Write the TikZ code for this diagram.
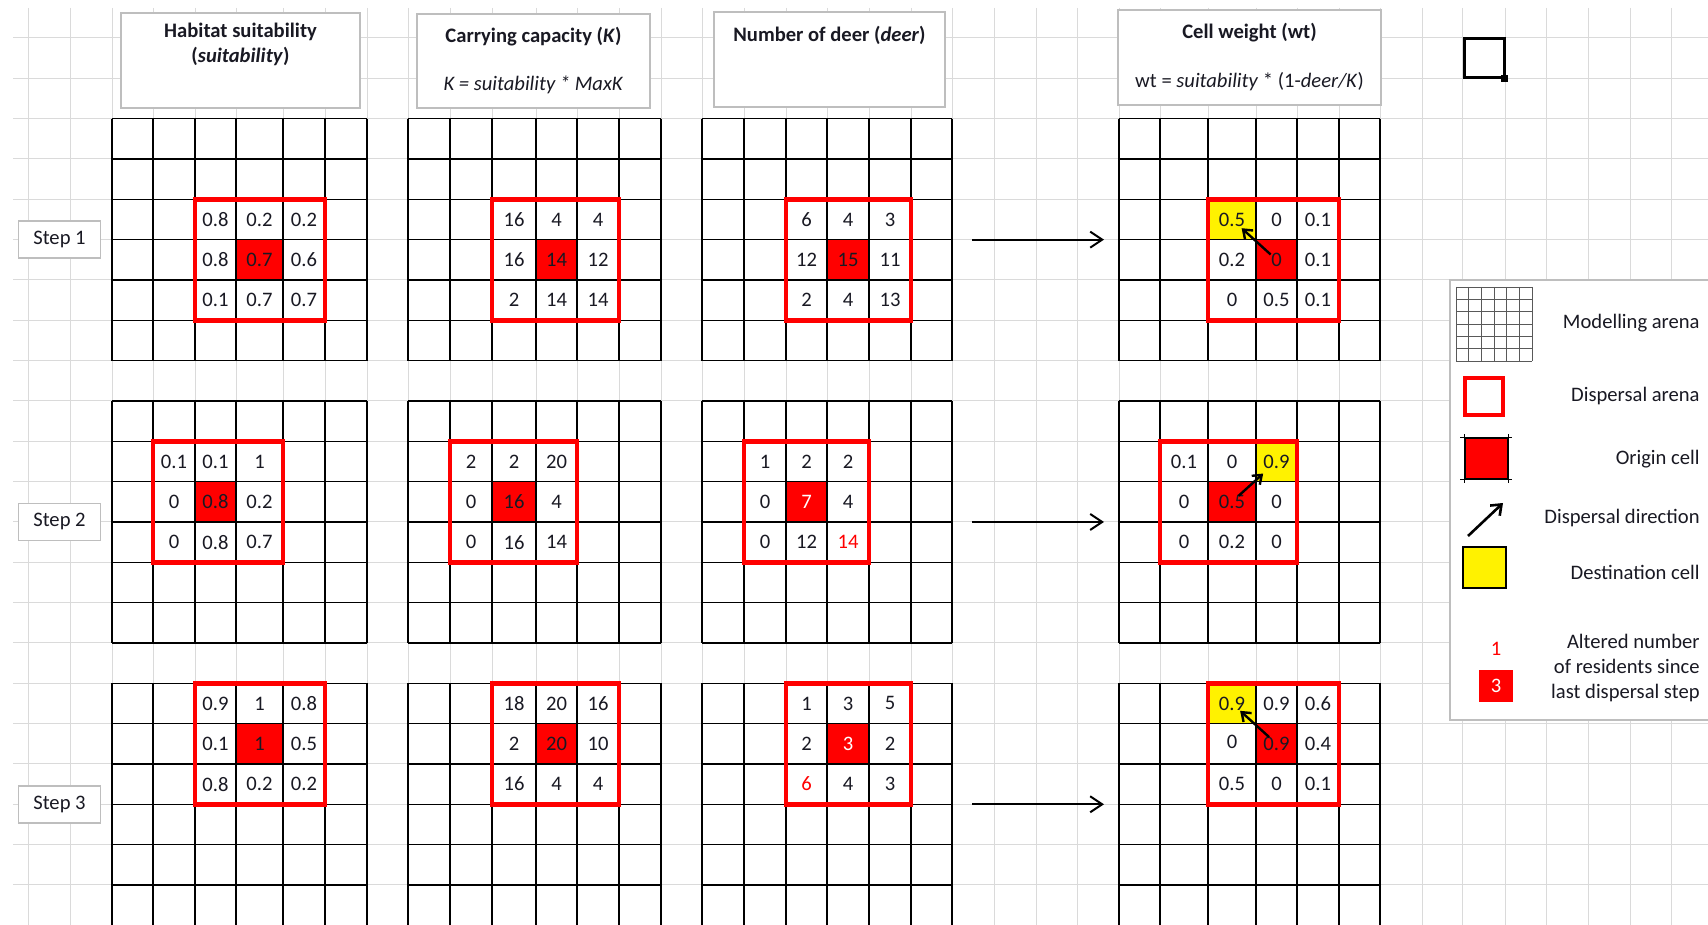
\documentclass[tikz,border=0pt]{standalone}
\usepackage{fontspec}
\setmainfont{Carlito}
\usetikzlibrary{arrows.meta,calc,positioning}

\definecolor{sheetline}{RGB}{218,218,218}
\definecolor{boxline}{RGB}{190,190,190}
\definecolor{ink}{RGB}{25,25,35}

% column boundaries of the four panels (A suitability, B K, C deer, D wt)
\def\colx{{112,153,195,236,283,325,367,
  408,450,492,536,577,619,661,
  702,744,786,827,869,911,952,
  1119,1160,1208,1256,1297,1339,1380}}

\tikzset{
  sheet/.style={sheetline,line width=0.5pt},
  cellgrid/.style={black,line width=0.65pt},
  arena/.style={red,line width=2.3pt},
  headbox/.style={draw=boxline,fill=white,line width=0.8pt,inner sep=0pt},
  stepbox/.style={headbox,minimum width=41pt,minimum height=18.5pt},
  num/.style={text=ink,inner sep=0pt},
  legtext/.style={text=ink,anchor=east,align=right,inner sep=0pt},
  flow/.style={-{Straight Barb[length=6pt,width=8pt]},line width=1pt},
  hop/.style={-{Straight Barb[length=4pt,width=6pt]},line width=1.2pt}
}

\begin{document}
\begin{tikzpicture}[x=0.5pt,y=-0.5pt,font=\fontsize{10.3}{12.4}\selectfont]
\useasboundingbox (0,0) rectangle (1708,925);
\fill[white] (0,0) rectangle (1708,925);

% --- spreadsheet background ---
\foreach \k in {0,...,22}
  \draw[sheet] (13,{38+40.33*\k}) -- (1708,{38+40.33*\k});
\foreach \x in {28,70,112,153,195,236,283,325,367,408,450,492,536,577,619,661,
    702,744,786,827,869,911,952,994,1036,1077,1119,1160,1208,1256,1297,1339,
    1380,1422,1462,1505,1546,1588,1630,1671}
  \draw[sheet] (\x,8) -- (\x,925);

% --- column headers ---
\node[headbox,minimum width=119.5pt,minimum height=47.5pt] (headA) at (240.5,60.5) {};
\node[headbox,minimum width=116.5pt,minimum height=47pt] (headB) at (533.5,61) {};
\node[headbox,minimum width=115.5pt,minimum height=47.5pt] (headC) at (829.5,59.5) {};
\node[headbox,minimum width=131.5pt,minimum height=47.5pt] (headD) at (1249.5,57.5) {};
\node[text=ink] (titleA) at (240.5,32) {\textbf{Habitat suitability}};
\node[text=ink] (titleA2) at (240.5,56) {\textbf{(\textit{suitability})}};
\node[text=ink] (titleB) at (533.5,37) {\textbf{Carrying capacity (\textit{K})}};
\node[text=ink] (eqB) at (533.5,85) {\textit{K = suitability * MaxK}};
\node[text=ink] (titleC) at (829.5,35) {\textbf{Number of deer (\textit{deer})}};
\node[text=ink] (titleD) at (1249.5,33) {\textbf{Cell weight (wt)}};
\node[text=ink] (eqD) at (1249.5,82) {wt = \textit{suitability} * (1-\textit{deer/K})};

% --- step labels ---
\foreach \st in {1,2,3}
  \node[stepbox,text=ink] (step\st) at (59.5,{38+40.33*(5+7*(\st-1))}) {Step \st};

% --- origin cells (red) and destination cells (yellow) ---
\foreach \st/\ocol/\orow in {1/3/3,2/2/2,3/3/1}
  \foreach \pn in {0,...,3} {
    \pgfmathtruncatemacro\ia{7*\pn+\ocol}
    \pgfmathtruncatemacro\ib{\ia+1}
    \pgfmathsetmacro\xa{\colx[\ia]}
    \pgfmathsetmacro\xb{\colx[\ib]}
    \pgfmathsetmacro\ya{38+40.33*(2+7*(\st-1)+\orow)}
    \fill[red] (\xa,\ya) rectangle (\xb,{\ya+40.33});
  }
\foreach \st/\dcol/\drow in {1/2/2,2/3/1,3/2/0} {
  \pgfmathtruncatemacro\ia{21+\dcol}
  \pgfmathtruncatemacro\ib{\ia+1}
  \pgfmathsetmacro\xa{\colx[\ia]}
  \pgfmathsetmacro\xb{\colx[\ib]}
  \pgfmathsetmacro\ya{38+40.33*(2+7*(\st-1)+\drow)}
  \fill[yellow] (\xa,\ya) rectangle (\xb,{\ya+40.33});
}

% --- modelling arenas and dispersal arenas ---
\foreach \st/\ocol/\orow in {1/3/3,2/2/2,3/3/1}
  \foreach \pn in {0,...,3} {
    \pgfmathsetmacro\ytop{38+40.33*(2+7*(\st-1))}
    \pgfmathtruncatemacro\ia{7*\pn}
    \pgfmathtruncatemacro\ib{7*\pn+6}
    \pgfmathsetmacro\xa{\colx[\ia]}
    \pgfmathsetmacro\xb{\colx[\ib]}
    \foreach \k in {0,...,6} {
      \pgfmathtruncatemacro\ic{7*\pn+\k}
      \pgfmathsetmacro\xc{\colx[\ic]}
      \draw[cellgrid] (\xa,{\ytop+40.33*\k}) -- (\xb,{\ytop+40.33*\k});
      \draw[cellgrid] (\xc,\ytop) -- (\xc,{\ytop+40.33*6});
    }
    \pgfmathtruncatemacro\ia{7*\pn+\ocol-1}
    \pgfmathtruncatemacro\ib{7*\pn+\ocol+2}
    \pgfmathsetmacro\xa{\colx[\ia]}
    \pgfmathsetmacro\xb{\colx[\ib]}
    \draw[arena] (\xa,{\ytop+40.33*(\orow-1)}) rectangle (\xb,{\ytop+40.33*(\orow+2)});
  }

% --- cell values, row by row inside each dispersal arena ---
\foreach \st/\pn/\pid/\vals in {
    1/0/A/{0.8,0.2,0.2,0.8,0.7,0.6,0.1,0.7,0.7},
    1/1/B/{16,4,4,16,14,12,2,14,14},
    1/2/C/{6,4,3,12,15,11,2,4,13},
    1/3/D/{0.5,0,0.1,0.2,0,0.1,0,0.5,0.1},
    2/0/A/{0.1,0.1,1,0,0.8,0.2,0,0.8,0.7},
    2/1/B/{2,2,20,0,16,4,0,16,14},
    2/2/C/{1,2,2,0,{\color{white}7},4,0,12,{\color{red}14}},
    2/3/D/{0.1,0,0.9,0,0.5,0,0,0.2,0},
    3/0/A/{0.9,1,0.8,0.1,1,0.5,0.8,0.2,0.2},
    3/1/B/{18,20,16,2,20,10,16,4,4},
    3/2/C/{1,3,5,2,{\color{white}3},2,{\color{red}6},4,3},
    3/3/D/{0.9,0.9,0.6,{\raisebox{2pt}{0}},0.9,0.4,0.5,0,0.1}} {
  \pgfmathtruncatemacro\si{\st-1}
  \pgfmathtruncatemacro\ocol{{3,2,3}[\si]}
  \pgfmathtruncatemacro\orow{{3,2,1}[\si]}
  \foreach \val [count=\idx from 0] in \vals {
    \pgfmathtruncatemacro\ia{7*\pn+\ocol-1+mod(\idx,3)}
    \pgfmathtruncatemacro\ib{\ia+1}
    \pgfmathsetmacro\xl{\colx[\ia]}
    \pgfmathsetmacro\xr{\colx[\ib]}
    \pgfmathsetmacro\xm{(\xl+\xr)/2}
    \pgfmathsetmacro\ym{38+40.33*(2+7*\si+\orow-1+floor(\idx/3)+0.5)}
    \node[num] (s\st\pid\idx) at (\xm,\ym) {\val};
  }
}

% --- from deer counts to cell weights, and the dispersal moves ---
\foreach \st in {1,2,3} {
  \coordinate (from\st) at (972,{38+40.33*(5+7*(\st-1))});
  \coordinate (to\st) at (1104,{38+40.33*(5+7*(\st-1))});
  \draw[flow] (from\st) -- (to\st);
}
\draw[hop,shorten <=4pt,shorten >=6.5pt] (s1D4.center) -- (s1D0.center);
\draw[hop,shorten <=4.5pt,shorten >=9pt] (s2D4.center) -- (s2D2.center);
\draw[hop,shorten <=5pt,shorten >=5.5pt] (s3D4.center) -- (s3D0.center);

% --- selection mark ---
\draw[line width=1.5pt] (1464,39) rectangle (1504.5,77.5);
\fill (1501,75) rectangle (1508,82);

% --- legend ---
\node[headbox,minimum width=132.5pt,minimum height=220pt] (legend) at (1582.5,500) {};
\foreach \i in {0,...,6} {
  \draw[black!65,line width=0.4pt] ({1456+12.67*\i},287) -- ({1456+12.67*\i},361);
  \draw[black!65,line width=0.4pt] (1456,{287+12.33*\i}) -- (1532,{287+12.33*\i});
}
\node[draw=red,line width=2.2pt,minimum width=19pt,minimum height=18.5pt,inner sep=0pt]
  (legArena) at (1484,396.5) {};
\node[draw=black,fill=red,line width=0.6pt,minimum width=21.5pt,minimum height=20.5pt,inner sep=0pt]
  (legOrigin) at (1486.5,458.5) {};
\draw[line width=0.6pt] ($(legOrigin.north west)+(-4,0)$) -- ($(legOrigin.north east)+(3,0)$)
  ($(legOrigin.south west)+(-4,0)$) -- ($(legOrigin.south east)+(3,0)$)
  ($(legOrigin.north west)+(0,-3)$) -- ($(legOrigin.south west)+(0,3)$)
  ($(legOrigin.north east)+(0,-3)$) -- ($(legOrigin.south east)+(0,3)$);
\coordinate (legTail) at (1468,536);
\coordinate (legHead) at (1503,503);
\draw[hop,-{Straight Barb[length=4.5pt,width=7pt]},line width=1.3pt] (legTail) -- (legHead);
\node[draw=black,fill=yellow,line width=0.6pt,minimum width=21.5pt,minimum height=20.5pt,inner sep=0pt]
  (legDest) at (1484.5,567.5) {};
\node[text=red,inner sep=0pt] (legOne) at (1496,649) {1};
\node[fill=red,text=white,minimum width=17pt,minimum height=16pt,inner sep=0pt]
  (legThree) at (1496,686) {3};
\node[legtext] (txArena) at (1700,323) {Modelling arena};
\node[legtext] (txDisp) at (1700,396) {Dispersal arena};
\node[legtext] (txOrigin) at (1700,459) {Origin cell};
\node[legtext] (txDir) at (1700,518) {Dispersal direction};
\node[legtext] (txDest) at (1700,572) {Destination cell};
\node[legtext] (txAltered) at (1700,668) {Altered number\\of residents since\\last dispersal step};

\end{tikzpicture}
\end{document}
